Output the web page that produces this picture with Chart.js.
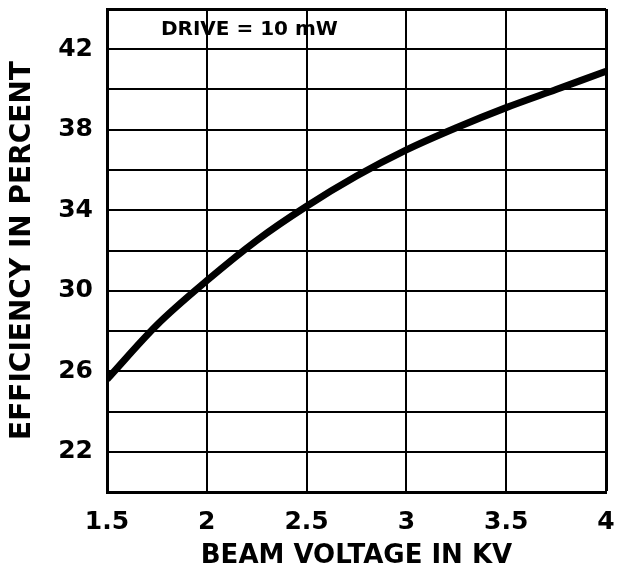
<!DOCTYPE html>
<html>
<head>
<meta charset="utf-8">
<script src="https://cdn.jsdelivr.net/npm/chart.js@4"></script>
<style>
  html, body { margin: 0; padding: 0; background: #fff; }
  #wrap { width: 629px; height: 572px; }
</style>
</head>
<body>
<div id="wrap"><canvas id="chart"></canvas></div>
<script>
// --- DATA ---
const beamVoltage = [1.5, 1.75, 2.0, 2.25, 2.5, 2.75, 3.0, 3.25, 3.5, 3.75, 4.0];
const efficiency  = [25.6, 28.3, 30.5, 32.5, 34.2, 35.7, 37.0, 38.1, 39.1, 40.0, 40.9];
const yLabels = [22, 26, 30, 34, 38, 42];
const xLabels = ['1.5', '2', '2.5', '3', '3.5', '4'];
const note = 'DRIVE = 10 mW';

const FONT = '"DejaVu Sans", sans-serif';

// draws the "DRIVE = 10 mW" note inside the plot
const notePlugin = {
  id: 'note',
  afterDatasetsDraw(chart) {
    const { ctx, scales: { x, y } } = chart;
    ctx.save();
    ctx.fillStyle = '#000';
    ctx.font = `bold 20px ${FONT}`;
    ctx.textAlign = 'left';
    ctx.textBaseline = 'middle';
    ctx.fillText(note, x.getPixelForValue(1.77), y.getPixelForValue(42.95));
    ctx.restore();
  }
};

const ctx = document.getElementById('chart').getContext('2d');
new Chart(ctx, {
  type: 'line',
  data: {
    datasets: [{
      data: beamVoltage.map((v, i) => ({ x: v, y: efficiency[i] })),
      borderColor: '#000',
      borderWidth: 7,
      pointRadius: 0,
      cubicInterpolationMode: 'monotone',
      fill: false
    }]
  },
  options: {
    responsive: true,
    maintainAspectRatio: false,
    animation: false,
    layout: { padding: { top: 9, right: 23, left: 0, bottom: 0 } },
    plugins: { legend: { display: false }, tooltip: { enabled: false } },
    scales: {
      x: {
        type: 'linear',
        min: 1.5,
        max: 4,
        afterFit: s => { s.height = 80; s.paddingLeft = 0; s.paddingRight = 0; },
        ticks: {
          stepSize: 0.5,
          color: '#000',
          padding: 15,
          maxRotation: 0,
          font: { family: FONT, size: 25, weight: 'bold' },
          callback: (v, i) => xLabels[i] ?? ''
        },
        grid: {
          color: '#000',
          lineWidth: c => (c.tick && c.tick.value === 4 ? 3 : 2),
          drawTicks: false
        },
        border: { color: '#000', width: 3 },
        title: {
          display: true,
          text: 'BEAM VOLTAGE IN KV',
          color: '#000',
          padding: { top: 0, bottom: 0 },
          font: { family: FONT, size: 26, weight: 'bold' }
        }
      },
      y: {
        min: 20,
        max: 44,
        afterFit: s => { s.width = 107; s.paddingTop = 0; s.paddingBottom = 0; },
        ticks: {
          stepSize: 2,
          color: '#000',
          padding: 14,
          font: { family: FONT, size: 25, weight: 'bold' },
          callback: v => (yLabels.includes(v) ? String(v) : '')
        },
        grid: {
          color: '#000',
          lineWidth: c => (c.tick && c.tick.value === 44 ? 3 : 2),
          drawTicks: false
        },
        border: { color: '#000', width: 3 },
        title: {
          display: true,
          text: 'EFFICIENCY IN PERCENT',
          color: '#000',
          padding: { top: 6, bottom: 0 },
          font: { family: FONT, size: 28, weight: 'bold' }
        }
      }
    }
  },
  plugins: [notePlugin]
});
</script>
</body>
</html>
